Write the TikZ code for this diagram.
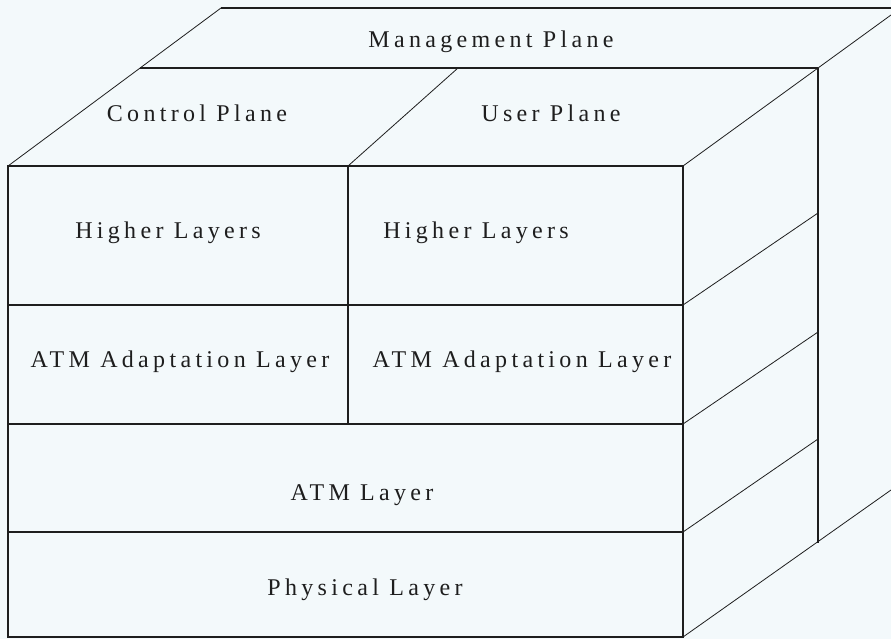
\documentclass[tikz,border=0pt]{standalone}
\usepackage{fontspec}
\newfontfamily\lblfont[LetterSpace=18]{Liberation Serif}
\definecolor{bgc}{HTML}{F3F9FB}
\definecolor{ink}{HTML}{1E1E1E}
\begin{document}
\begin{tikzpicture}[x=1pt,y=-1pt,
  edge/.style={draw=ink,line width=1.1pt},
  diag/.style={draw=ink,line width=0.8pt},
  lbl/.style={font=\lblfont\fontsize{24}{27}\selectfont,text=ink,inner sep=0pt}]
\fill[bgc] (0,0) rectangle (891,639);
\useasboundingbox (0,0) rectangle (891,639);
% corners
\coordinate (FTL) at (8,166);
\coordinate (FTR) at (683,166);
\coordinate (FBL) at (8,637);
\coordinate (FBR) at (683,637);
\coordinate (BTL) at (221,8);
\coordinate (BTR) at (891,8);
\coordinate (MTL) at (140,68);
\coordinate (MTR) at (818,68);
\coordinate (MBR) at (818,543);
\coordinate (DivB) at (348,424);
\coordinate (DivT) at (348,166);
\coordinate (DivBack) at (458,68);
\coordinate (H1L) at (8,305);  \coordinate (H1R) at (683,305);
\coordinate (H2L) at (8,424);  \coordinate (H2R) at (683,424);
\coordinate (H3L) at (8,532);  \coordinate (H3R) at (683,532);
\coordinate (S1) at (818,213);
\coordinate (S2) at (818,332);
\coordinate (S3) at (818,439);
\coordinate (BEnd) at (891,490);
% top face
\draw[diag] (FTL) -- (BTL);
\draw[edge] (BTL) -- (BTR);
\draw[edge] (MTL) -- (MTR);
\draw[diag] (DivT) -- (DivBack);
\draw[diag] (FTR) -- (MTR);
\draw[diag] (MTR) -- (891,15);
% front face
\draw[edge] (FTL) rectangle (FBR);
\draw[edge] (H1L) -- (H1R);
\draw[edge] (H2L) -- (H2R);
\draw[edge] (H3L) -- (H3R);
\draw[edge] (DivT) -- (DivB);
% right side
\draw[edge] (MTR) -- (MBR);
\draw[diag] (H1R) -- (S1);
\draw[diag] (H2R) -- (S2);
\draw[diag] (H3R) -- (S3);
\draw[diag] (FBR) -- (BEnd);
% labels
\node[lbl] (mgmt) at (491,42) {Management Plane};
\node[lbl] (ctrl) at (197,113) {Control Plane};
\node[lbl] (user) at (551,113) {User Plane};
\node[lbl] (hl1) at (168,233) {Higher Layers};
\node[lbl] (hl2) at (476,233) {Higher Layers};
\node[lbl] (aal1) at (180,362) {ATM Adaptation Layer};
\node[lbl] (aal2) at (522,362) {ATM Adaptation Layer};
\node[lbl] (atm) at (362,495) {ATM Layer};
\node[lbl] (phy) at (365,590) {Physical Layer};
\end{tikzpicture}
\end{document}
